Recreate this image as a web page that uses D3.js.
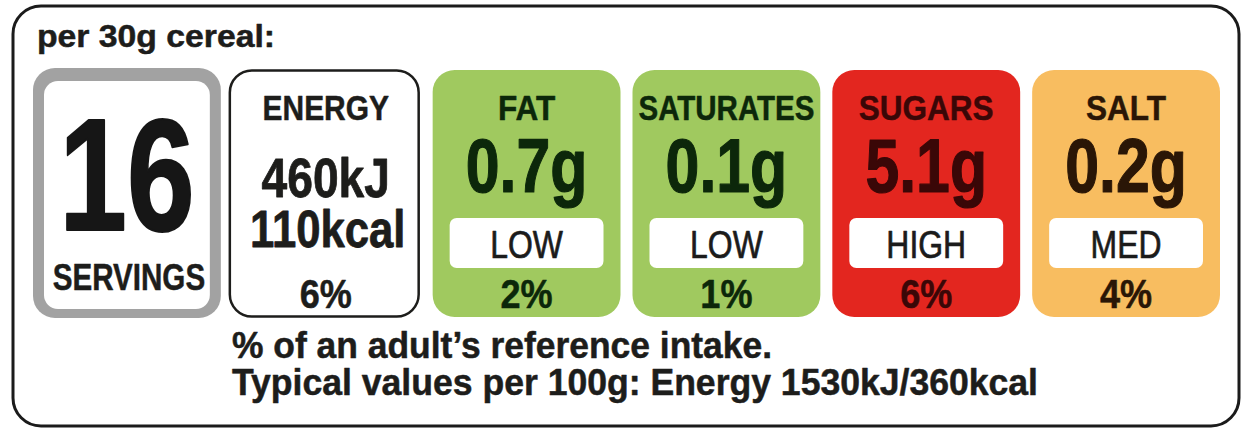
<!DOCTYPE html>
<html><head><meta charset="utf-8">
<script src="https://cdn.jsdelivr.net/npm/d3@7"></script>
<style>
html,body{margin:0;padding:0;background:#fff;}
svg{display:block;}
text{font-family:"Liberation Sans",Arial,sans-serif;}
</style></head>
<body>
<script>
// ---- data ----
const portionLabel = "per 30g cereal:";
const servings = 16;
const servingsLabel = "SERVINGS";
const panels = ["SERVINGS", "ENERGY", "FAT", "SATURATES", "SUGARS", "SALT"];
const nutrients = ["FAT", "SATURATES", "SUGARS", "SALT"];
const grams = [0.7, 0.1, 5.1, 0.2];
const levels = ["LOW", "LOW", "HIGH", "MED"];
const riPercent = [2, 1, 6, 4];
const energyKJ = 460;
const energyKcal = 110;
const energyPercent = 6;
const per100kJ = 1530;
const per100kcal = 360;
const footnotes = ["% of an adult\u2019s reference intake.",
  `Typical values per 100g: Energy ${per100kJ}kJ/${per100kcal}kcal`];

// ---- layout ----
const W = 1243, H = 429;
const svg = d3.select("body").append("svg").attr("width", W).attr("height", H);

const x = d3.scaleBand().domain(panels).range([33, 1220]).paddingInner(0.06);
const bw = x.bandwidth();
const boxTop = 70, boxBottom = 317;

const fill = d3.scaleOrdinal().domain(["LOW", "MED", "HIGH"]).range(["#a0c95f", "#f8bd60", "#e3261f"]);
const ink = d3.scaleOrdinal().domain(["LOW", "MED", "HIGH"]).range(["#0c270a", "#2a1606", "#3a0707"]);

// condense text horizontally (label font is a condensed grotesque)
function fit(sel, factor, maxW) {
  sel.each(function () {
    const w = this.getComputedTextLength();
    let t = w * factor;
    if (maxW && t > maxW) t = maxW;
    d3.select(this).attr("textLength", t).attr("lengthAdjust", "spacingAndGlyphs");
  });
  return sel;
}
function heavy(sel, sw) {
  return sel.attr("stroke", function () { return d3.select(this).attr("fill"); })
    .attr("stroke-width", sw).attr("stroke-linejoin", "round");
}

// outer frame
svg.append("rect").attr("x", 13).attr("y", 6).attr("width", 1226).attr("height", 420)
  .attr("rx", 28).attr("fill", "#fff").attr("stroke", "#1b1b1b").attr("stroke-width", 3);

// portion label
svg.append("text").attr("x", 37).attr("y", 47).attr("font-size", 31).attr("font-weight", "bold")
  .attr("fill", "#1d1d1b").text(portionLabel)
  .attr("textLength", 238).attr("lengthAdjust", "spacingAndGlyphs").call(heavy, 0.5);

// servings panel
const sx = x("SERVINGS");
svg.append("rect").attr("x", sx).attr("y", boxTop - 2).attr("width", bw).attr("height", boxBottom - boxTop + 3)
  .attr("rx", 22).attr("fill", "#a2a2a2");
svg.append("rect").attr("x", sx + 11).attr("y", boxTop + 11).attr("width", bw - 22).attr("height", boxBottom - boxTop - 19)
  .attr("rx", 14).attr("fill", "#fff");
svg.append("text").attr("x", sx + bw / 2).attr("y", 230).attr("text-anchor", "middle")
  .attr("font-size", 160).attr("font-weight", "bold").attr("fill", "#161616")
  .text(servings).call(fit, 0.76).call(heavy, 2);
svg.append("text").attr("x", sx + bw / 2 + 2).attr("y", 290).attr("text-anchor", "middle")
  .attr("font-size", 37).attr("font-weight", "bold").attr("fill", "#1d1d1b")
  .text(servingsLabel).call(fit, 0.80).call(heavy, 0.5);

// energy panel
const ex = x("ENERGY"), ecx = ex + bw / 2;
svg.append("rect").attr("x", ex - 3).attr("y", boxTop + 0.5).attr("width", bw + 1).attr("height", boxBottom - boxTop - 1)
  .attr("rx", 22).attr("fill", "#fff").attr("stroke", "#1d1d1b").attr("stroke-width", 2.5);
const eg = svg.append("g").attr("font-weight", "bold").attr("text-anchor", "middle");
eg.append("text").attr("x", ecx - 1).attr("y", 120).attr("font-size", 35).attr("fill", "#1d1d1b")
  .text("ENERGY").call(fit, 0.855).call(heavy, 0.5);
eg.append("text").attr("x", ecx - 1).attr("y", 197).attr("font-size", 55).attr("fill", "#1d1d1b")
  .text(energyKJ + "kJ").call(fit, 0.84).call(heavy, 0.8);
eg.append("text").attr("x", ecx + 1).attr("y", 247).attr("font-size", 52).attr("fill", "#1d1d1b")
  .text(energyKcal + "kcal").call(fit, 0.84).call(heavy, 0.8);
eg.append("text").attr("x", ecx - 1).attr("y", 308).attr("font-size", 41).attr("fill", "#1d1d1b")
  .text(energyPercent + "%").call(fit, 0.88).call(heavy, 0.5);

// nutrient panels
const rows = nutrients.map((n, i) => ({ n, g: grams[i], lvl: levels[i], pct: riPercent[i] }));
const g = svg.selectAll("g.nut").data(rows).join("g").attr("class", "nut")
  .attr("transform", d => `translate(${x(d.n)},0)`);

g.append("rect").attr("x", 0).attr("y", boxTop).attr("width", bw).attr("height", boxBottom - boxTop)
  .attr("rx", 22).attr("fill", d => fill(d.lvl));
g.append("rect").attr("x", 17).attr("y", 218).attr("width", bw - 34).attr("height", 50)
  .attr("rx", 7).attr("fill", "#fff");

g.append("text").attr("x", bw / 2).attr("y", 120).attr("text-anchor", "middle")
  .attr("font-size", 35).attr("font-weight", "bold").attr("fill", d => ink(d.lvl))
  .text(d => d.n).call(fit, 0.9, bw - 12).call(heavy, 0.5);
g.append("text").attr("x", bw / 2).attr("y", 192).attr("text-anchor", "middle")
  .attr("font-size", 76).attr("font-weight", "bold").attr("fill", d => ink(d.lvl))
  .text(d => d.g + "g").call(fit, 0.8).call(heavy, 1.2);
g.append("text").attr("x", bw / 2).attr("y", 258).attr("text-anchor", "middle")
  .attr("font-size", 38).attr("fill", "#1b1b1b")
  .text(d => d.lvl).call(fit, 0.84).call(heavy, 0.7);
g.append("text").attr("x", bw / 2).attr("y", 308).attr("text-anchor", "middle")
  .attr("font-size", 41).attr("font-weight", "bold").attr("fill", d => ink(d.lvl))
  .text(d => d.pct + "%").call(fit, 0.88).call(heavy, 0.5);

// footnotes
const fw = [540, 806];
svg.selectAll("text.foot").data(footnotes).join("text").attr("class", "foot")
  .attr("x", 232).attr("y", (d, i) => [358, 395][i])
  .attr("font-size", 36).attr("font-weight", "bold").attr("fill", "#1d1d1b")
  .text(d => d)
  .attr("textLength", (d, i) => fw[i]).attr("lengthAdjust", "spacingAndGlyphs")
  .call(heavy, 0.5);
</script>
</body></html>
